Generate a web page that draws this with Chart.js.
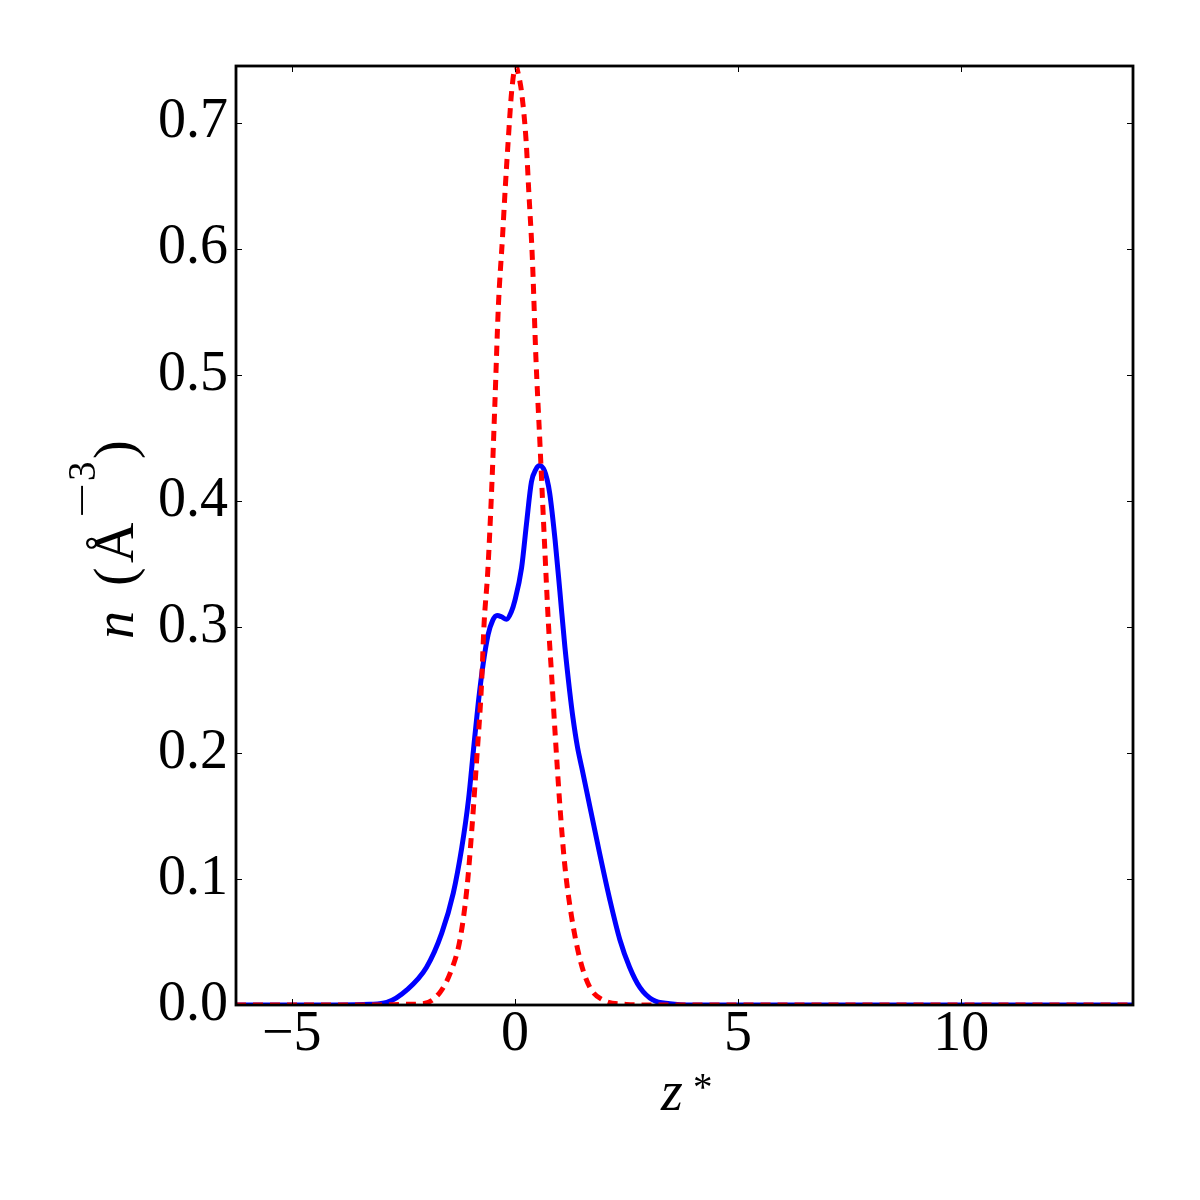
<!DOCTYPE html>
<html>
<head>
<meta charset="utf-8">
<script src="https://cdn.jsdelivr.net/npm/chart.js@4.4.0/dist/chart.umd.min.js"></script>
<style>
  html, body { margin: 0; padding: 0; background: #fff; }
  #wrap { width: 1200px; height: 1200px; position: relative; }
</style>
</head>
<body>
<div id="wrap"><canvas id="c"></canvas></div>
<script>
// axis ranges and ticks
const X_MIN = -6.25, X_MAX = 13.85;
const Y_MIN = 0, Y_MAX = 0.745;
const xTicks = [-5, 0, 5, 10];
const yTicks = [0, 0.1, 0.2, 0.3, 0.4, 0.5, 0.6, 0.7];

// blue solid curve
const blueX = [-6.25, -4.0, -3.25, -2.87, -2.42, -1.98, -1.64, -1.38, -1.19, -1.04, -0.93, -0.82, -0.71, -0.60, -0.50, -0.40, -0.30, -0.19, -0.08, 0.0, 0.15, 0.26, 0.37, 0.47, 0.56, 0.66, 0.72, 0.78, 0.90, 1.01, 1.12, 1.23, 1.30, 1.40, 1.50, 1.60, 1.70, 1.90, 2.13, 2.35, 2.57, 2.80, 3.09, 3.47, 4.0, 13.85];
const blueY = [0, 0, 0.0005, 0.002, 0.012, 0.030, 0.057, 0.089, 0.125, 0.163, 0.202, 0.240, 0.271, 0.294, 0.305, 0.309, 0.308, 0.306, 0.312, 0.321, 0.347, 0.382, 0.415, 0.425, 0.428, 0.424, 0.417, 0.406, 0.369, 0.327, 0.284, 0.248, 0.228, 0.205, 0.188, 0.171, 0.154, 0.120, 0.083, 0.052, 0.030, 0.014, 0.004, 0.001, 0, 0];

// red dashed curve
const redX = [-6.25, -3.0, -2.5, -2.06, -1.68, -1.42, -1.23, -1.08, -0.97, -0.86, -0.75, -0.69, -0.61, -0.52, -0.45, -0.37, -0.28, -0.22, -0.15, -0.07, 0.02, 0.08, 0.15, 0.25, 0.31, 0.39, 0.47, 0.56, 0.66, 0.75, 0.82, 0.90, 1.01, 1.12, 1.27, 1.46, 1.68, 1.97, 2.5, 3.0, 13.85];
const redY = [0, 0, 0.0005, 0.001, 0.010, 0.028, 0.052, 0.091, 0.137, 0.193, 0.253, 0.303, 0.343, 0.410, 0.476, 0.555, 0.608, 0.646, 0.686, 0.726, 0.745, 0.738, 0.724, 0.686, 0.646, 0.593, 0.514, 0.446, 0.369, 0.303, 0.263, 0.216, 0.157, 0.110, 0.070, 0.036, 0.014, 0.004, 0.0005, 0, 0];

const SERIF = "'Liberation Serif', 'Times New Roman', serif";
const pts = (xs, ys) => xs.map((x, i) => ({ x, y: ys[i] }));

// marco + ticks hacia dentro en los cuatro lados, y títulos con superíndices
const frame = {
  id: "frame",
  afterDatasetsDraw(chart) {
    const { ctx, chartArea: a, scales: { x, y } } = chart;
    ctx.save();
    ctx.strokeStyle = "#000";
    ctx.lineWidth = 1;
    ctx.beginPath();
    xTicks.forEach((v) => {
      const px = Math.round(x.getPixelForValue(v)) + 0.5;
      ctx.moveTo(px, a.bottom); ctx.lineTo(px, a.bottom - 6);
      ctx.moveTo(px, a.top); ctx.lineTo(px, a.top + 6);
    });
    yTicks.forEach((v) => {
      const py = Math.round(y.getPixelForValue(v)) + 0.5;
      ctx.moveTo(a.left, py); ctx.lineTo(a.left + 6, py);
      ctx.moveTo(a.right, py); ctx.lineTo(a.right - 6, py);
    });
    ctx.stroke();
    ctx.lineWidth = 2.8;
    ctx.strokeRect(a.left, a.top, a.right - a.left, a.bottom - a.top);
    ctx.restore();
  },
  afterDraw(chart) {
    const ctx = chart.ctx;
    ctx.save();
    ctx.fillStyle = "#000";
    ctx.textBaseline = "alphabetic";
    ctx.textAlign = "left";
    // x title: z*
    ctx.font = `italic 56px ${SERIF}`;
    ctx.fillText("z", 661, 1110);
    ctx.font = `39px ${SERIF}`;
    ctx.fillText("*", 693, 1100);
    // y title: n (Å^-3), rotated
    ctx.translate(133, 639);
    ctx.rotate(-Math.PI / 2);
    ctx.font = `italic 56px ${SERIF}`;
    ctx.fillText("n", 0, 0);
    ctx.font = `56px ${SERIF}`;
    ctx.fillText("(", 53, 0);
    ctx.fillText("Å", 76, 0);
    ctx.fillText(")", 180, 0);
    ctx.font = `39px ${SERIF}`;
    ctx.save();
    ctx.translate(121, -38);
    ctx.scale(1.6, 1);
    ctx.fillText("\u2212", 0, 0);
    ctx.restore();
    ctx.fillText("3", 158, -38);
    ctx.restore();
  },
};

const tickFont = { family: SERIF, size: 56, lineHeight: 1 };

new Chart(document.getElementById("c"), {
  type: "scatter",
  data: {
    datasets: [
      { data: pts(redX, redY), showLine: true, borderColor: "#ff0000", borderWidth: 5, borderDash: [10, 7], pointRadius: 0, cubicInterpolationMode: "monotone", fill: false },
      { data: pts(blueX, blueY), showLine: true, borderColor: "#0000ff", borderWidth: 5, pointRadius: 0, cubicInterpolationMode: "monotone", fill: false },
    ],
  },
  options: {
    responsive: true, maintainAspectRatio: false, animation: false,
    layout: { padding: { top: 66, right: 67, left: 0, bottom: 0 } },
    plugins: { legend: { display: false }, tooltip: { enabled: false } },
    scales: {
      x: {
        type: "linear", min: X_MIN, max: X_MAX,
        afterBuildTicks: (s) => { s.ticks = xTicks.map((v) => ({ value: v })); },
        afterFit: (s) => { s.height = 195; },
        grid: { display: false, drawTicks: false }, border: { display: false },
        ticks: { font: tickFont, color: "#000", padding: 2, maxRotation: 0, autoSkip: false,
          callback: (v) => (v < 0 ? "\u2212" + Math.abs(v) : String(v)) },
      },
      y: {
        type: "linear", min: Y_MIN, max: Y_MAX,
        afterBuildTicks: (s) => { s.ticks = yTicks.map((v) => ({ value: v })); },
        afterFit: (s) => { s.width = 236; },
        grid: { display: false, drawTicks: false }, border: { display: false },
        ticks: { font: tickFont, color: "#000", padding: 8, autoSkip: false,
          callback: (v) => v.toFixed(1) },
      },
    },
  },
  plugins: [frame],
});
</script>
</body>
</html>
